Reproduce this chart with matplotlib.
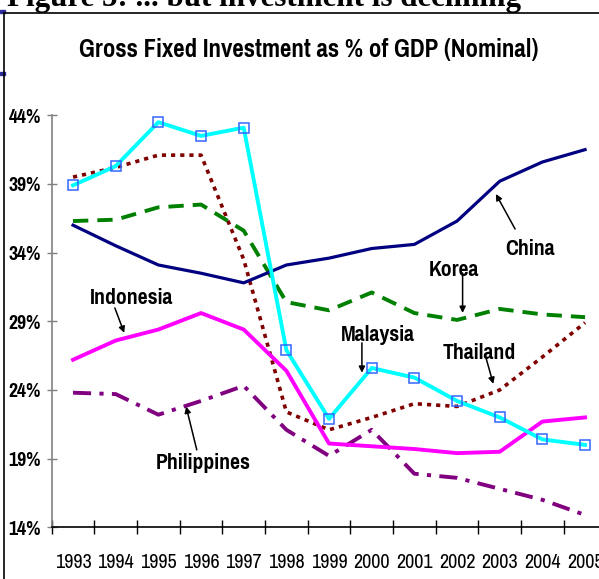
import matplotlib.pyplot as plt
from matplotlib import font_manager
from matplotlib.patches import Rectangle
from matplotlib.lines import Line2D

installed = {f.name for f in font_manager.fontManager.ttflist}
narrow = [n for n in ['Liberation Sans Narrow', 'Arial Narrow', 'Pragati Narrow', 'PT Sans Narrow',
                      'Archivo Narrow', 'Roboto Condensed'] if n in installed]
plt.rcParams['font.family'] = narrow[:1] + ['DejaVu Sans']
plt.rcParams['lines.scale_dashes'] = False

years = ['1993', '1994', '1995', '1996', '1997', '1998', '1999',
         '2000', '2001', '2002', '2003', '2004', '2005']

china = [36.0, 34.5, 33.1, 32.5, 31.8, 33.1, 33.6, 34.3, 34.6, 36.3, 39.2, 40.6, 41.5]
korea = [36.3, 36.4, 37.3, 37.5, 35.6, 30.4, 29.8, 31.1, 29.6, 29.1, 29.9, 29.5, 29.3]
thailand = [39.5, 40.2, 41.1, 41.1, 33.5, 22.4, 21.1, 22.0, 23.0, 22.8, 24.0, 26.4, 28.9]
malaysia = [38.9, 40.3, 43.5, 42.5, 43.1, 26.9, 21.9, 25.6, 24.9, 23.2, 22.0, 20.4, 20.0]
indonesia = [26.2, 27.6, 28.4, 29.6, 28.4, 25.4, 20.1, 19.9, 19.7, 19.4, 19.5, 21.7, 22.0]
philippines = [23.8, 23.7, 22.2, 23.2, 24.3, 21.1, 19.2, 21.1, 17.9, 17.6, 16.8, 16.0, 14.9]

yticks = [14, 19, 24, 29, 34, 39, 44]

fig = plt.figure(figsize=(5.99, 5.79), dpi=100)
W, H = 599, 579
ax = fig.add_axes([51.7 / W, 51.7 / H, (606.4 - 51.7) / W, (463.7 - 51.7) / H])

x = list(range(len(years)))

ax.plot(x, thailand, color='#800000', lw=2.6, dashes=(3, 3.6), zorder=3)
ax.plot(x, korea, color='#008000', lw=2.8, dashes=(11, 6.5), zorder=3)
ax.plot(x, philippines, color='#800080', lw=2.8, dashes=(13, 6, 3, 6), zorder=3)
ax.plot(x, china, color='#000080', lw=2.3, zorder=4)
ax.plot(x, indonesia, color='#FF00FF', lw=2.8, zorder=4)
ax.plot(x, malaysia, color='#00FFFF', lw=2.8, marker='s', markersize=7,
        markerfacecolor='none', markeredgecolor='#3366FF', markeredgewidth=1.1, zorder=5)

ax.set_xlim(-0.5, 12.5)
ax.set_ylim(14, 44)
ax.set_xticks(x)
ax.set_xticklabels(years, fontsize=15.8)
ax.set_xticks([k - 0.5 for k in range(14)], minor=True)
ax.tick_params(axis='x', which='major', length=0, pad=18.5)
ax.tick_params(axis='x', which='minor', direction='inout', length=9.5, width=1, color='black')

ax.set_yticks(yticks)
ax.set_yticklabels([f'{v}%' for v in yticks], fontsize=15.5, fontweight='bold')
ax.tick_params(axis='y', direction='inout', length=7.5, width=1, color='#808080', pad=4)

for s in ['top', 'right']:
    ax.spines[s].set_visible(False)
ax.spines['left'].set_color('#808080')
ax.spines['left'].set_linewidth(1.2)
ax.spines['bottom'].set_color('black')
ax.spines['bottom'].set_linewidth(1.2)

arrow = dict(arrowstyle='-|>', color='black', lw=1.1, mutation_scale=9, shrinkA=0, shrinkB=0)
labels = [
    ('China', 10.72, 33.83, (10.36, 35.72), (9.91, 38.27)),
    ('Korea', 8.93, 32.30, (9.13, 32.52), (9.13, 29.61)),
    ('Malaysia', 7.15, 27.57, (6.77, 27.43), (6.77, 25.25)),
    ('Thailand', 9.53, 26.26, (9.67, 26.43), (9.85, 24.44)),
    ('Indonesia', 1.38, 30.27, (0.98, 29.97), (1.20, 28.16)),
    ('Philippines', 3.05, 18.26, (2.90, 19.64), (2.65, 22.79)),
]
for name, tx, ty, tail, head in labels:
    ax.text(tx, ty, name, fontsize=17, fontweight='bold', ha='center', va='baseline', zorder=6)
    ax.annotate('', xy=head, xytext=tail, arrowprops=arrow, zorder=6)

fig.text(309 / W, (H - 57) / H, 'Gross Fixed Investment as % of GDP (Nominal)',
         fontsize=19.5, fontweight='bold', ha='center', va='baseline')

# cropped heading and frame of the pasted chart
fig.text(7 / W, (H - 6) / H, 'Figure 5: ... but investment is declining',
         fontsize=22.3, fontweight='bold', family='Liberation Serif', ha='left', va='baseline')
fig.add_artist(Line2D([4.3 / W, 4.3 / W], [0, (H - 12.7) / H], color='black', lw=1.2))
fig.add_artist(Line2D([4.3 / W, 1], [(H - 12.7) / H, (H - 12.7) / H], color='black', lw=1.2))
fig.add_artist(Rectangle((0, (H - 13) / H), 5 / W, 3 / H, color='#2B2B9A', transform=fig.transFigure))
fig.add_artist(Rectangle((0, (H - 75.5) / H), 5 / W, 3 / H, color='#2B2B9A', transform=fig.transFigure))

fig.savefig('out.png', dpi=100)
